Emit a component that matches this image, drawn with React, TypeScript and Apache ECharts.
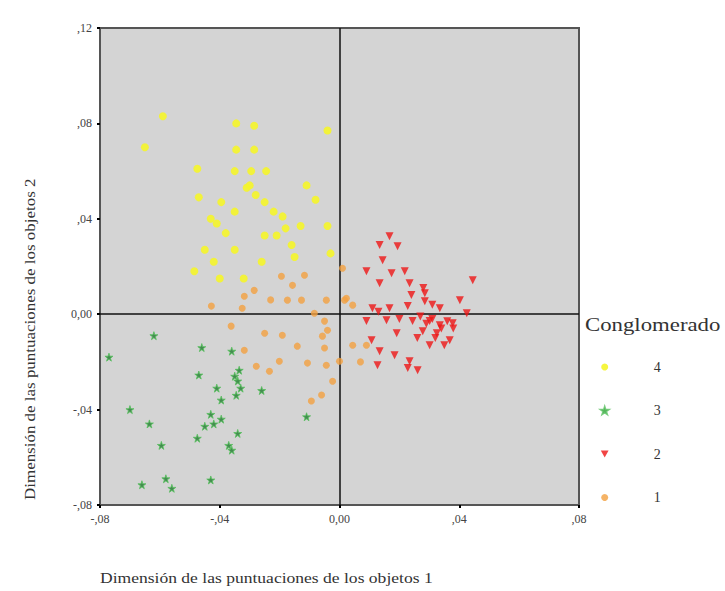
import React, { useEffect, useRef } from "react";
import * as echarts from "echarts";

const clusterNames = ["4", "3", "2", "1"];

const cluster4: number[][] = [
  [-0.059, 0.083], [-0.0345, 0.080], [-0.0285, 0.079], [-0.004, 0.077], [-0.065, 0.070],
  [-0.0345, 0.069], [-0.0285, 0.069], [-0.0475, 0.061], [-0.035, 0.060], [-0.0295, 0.060],
  [-0.0245, 0.060], [-0.031, 0.053], [-0.030, 0.054], [-0.011, 0.054], [-0.008, 0.048],
  [-0.047, 0.049], [-0.0395, 0.047], [-0.025, 0.047], [-0.035, 0.043], [-0.019, 0.041],
  [-0.013, 0.037], [-0.041, 0.038], [-0.038, 0.034], [-0.025, 0.033], [-0.021, 0.033],
  [-0.016, 0.029], [-0.004, 0.037], [-0.003, 0.0255], [-0.0485, 0.018], [-0.040, 0.015],
  [-0.032, 0.015], [-0.026, 0.022], [-0.042, 0.022], [-0.043, 0.040], [-0.028, 0.050],
  [-0.018, 0.036], [-0.022, 0.043], [-0.015, 0.024], [-0.035, 0.027], [-0.045, 0.027],
];

const cluster3: number[][] = [
  [-0.062, -0.009], [-0.077, -0.018], [-0.046, -0.014], [-0.036, -0.0155], [-0.0335, -0.0235],
  [-0.047, -0.0255], [-0.034, -0.028], [-0.033, -0.031], [-0.041, -0.031], [-0.0345, -0.034],
  [-0.026, -0.032], [-0.0395, -0.036], [-0.070, -0.040], [-0.043, -0.042], [-0.042, -0.046],
  [-0.0635, -0.046], [-0.0395, -0.044], [-0.0475, -0.052], [-0.034, -0.050], [-0.037, -0.055],
  [-0.036, -0.057], [-0.0595, -0.055], [-0.011, -0.043], [-0.066, -0.0715], [-0.058, -0.069],
  [-0.056, -0.073], [-0.043, -0.0695], [-0.035, -0.026], [-0.045, -0.047],
];

const cluster2: number[][] = [
  [0.0167, 0.0327], [0.0134, 0.029], [0.0194, 0.0285], [0.0144, 0.0226], [0.009, 0.018],
  [0.0174, 0.0172], [0.0218, 0.018], [0.0134, 0.013], [0.0234, 0.013], [0.0285, 0.0088],
  [0.0285, 0.0054], [0.0445, 0.0142], [0.0402, 0.0059], [0.011, 0.0025], [0.0167, 0.0025],
  [0.0228, 0.0034], [0.0335, 0.0025], [0.0425, 0.0004], [0.009, -0.0029], [0.0157, -0.0025],
  [0.0244, -0.0029], [0.0301, -0.0029], [0.0335, -0.0046], [0.0378, -0.0038], [0.0278, -0.0071],
  [0.0325, -0.008], [0.0191, -0.008], [0.0368, -0.0109], [0.0301, -0.013], [0.0107, -0.0109],
  [0.0134, -0.0155], [0.0184, -0.0172], [0.0234, -0.0197], [0.0261, -0.0235], [0.0228, -0.0226],
  [0.0127, -0.0214], [0.031, -0.002], [0.034, -0.006], [0.029, -0.004], [0.036, -0.003],
  [0.032, -0.010], [0.027, -0.001], [0.038, -0.006], [0.026, -0.010], [0.031, 0.004],
  [0.013, 0.001], [0.020, -0.002], [0.024, 0.008], [0.028, 0.011], [0.035, -0.013],
];

const cluster1: number[][] = [
  [-0.0194, 0.0159], [-0.0117, 0.0163], [-0.0157, 0.0121], [-0.0318, 0.0075], [-0.0325, 0.0025],
  [-0.0428, 0.0034], [-0.0174, 0.0059], [-0.0127, 0.0059], [-0.0044, 0.0059], [0.0023, 0.0067],
  [0.0044, 0.0038], [-0.0084, 0.0004], [-0.005, -0.0029], [-0.0362, -0.005], [-0.0191, -0.0088],
  [-0.0057, -0.0092], [-0.004, -0.0067], [-0.0141, -0.0134], [-0.005, -0.0142], [0.0044, -0.013],
  [-0.0318, -0.0151], [-0.0201, -0.0197], [-0.0107, -0.0205], [-0.0044, -0.0214], [0.0, -0.0197],
  [-0.0234, -0.0239], [-0.0278, -0.0218], [-0.0023, -0.0281], [-0.006, -0.0339], [-0.0094, -0.0364],
  [0.001, 0.0193], [0.0017, 0.0059], [-0.0285, 0.0100], [-0.023, 0.0060], [0.007, -0.020],
  [0.009, -0.013], [-0.025, -0.008],
];

const xTitle = "Dimensión de las puntuaciones de los objetos 1";
const yTitle = "Dimensión de las puntuaciones de los objetos 2";
const legendTitle = "Conglomerado";

const SERIF = "'Liberation Serif', 'Times New Roman', serif";
const STAR = "path://M50,0 L61,35 L98,35 L68,57 L79,91 L50,70 L21,91 L32,57 L2,35 L39,35 Z";
const DOWN_TRI = "path://M0,0 L10,0 L5,9 Z";

function fmt(v: number): string {
  if (Math.abs(v) < 1e-9) return "0,00";
  const s = String(Math.round(Math.abs(v) * 100)).padStart(2, "0");
  return (v < 0 ? "-," : ",") + s;
}

export default function App() {
  const ref = useRef<HTMLDivElement>(null);
  useEffect(() => {
    if (!ref.current) return;
    const chart = echarts.init(ref.current, null, { renderer: "svg" });
    const axisCommon = {
      axisLine: { show: true, onZero: false, lineStyle: { color: "#555", width: 2 } },
      axisTick: { show: true, length: 3, lineStyle: { color: "#000", width: 2 } },
      splitLine: { show: false },
      axisLabel: {
        formatter: fmt,
        color: "#444",
        fontFamily: SERIF,
        fontSize: 12,
        margin: 8,
      },
    };
    chart.setOption({
      animation: false,
      backgroundColor: "#ffffff",
      grid: {
        left: 100,
        right: 146,
        top: 28,
        bottom: 86,
        show: true,
        backgroundColor: "#d4d4d4",
        borderColor: "#555",
        borderWidth: 2,
      },
      xAxis: {
        type: "value",
        min: -0.08,
        max: 0.08,
        interval: 0.04,
        ...axisCommon,
      },
      yAxis: {
        type: "value",
        min: -0.08,
        max: 0.12,
        interval: 0.04,
        ...axisCommon,
      },
      legend: {
        data: clusterNames,
        orient: "vertical",
        left: 595,
        top: 355,
        padding: 5,
        itemWidth: 8,
        itemHeight: 7,
        itemGap: 29.5,
        textStyle: { fontFamily: SERIF, fontSize: 14, color: "#333", padding: [0, 0, 0, 40] },
        selectedMode: false,
      },
      graphic: [
        {
          type: "text",
          x: 585,
          y: 325,
          scaleX: 1.2,
          style: { text: legendTitle, font: `19px ${SERIF}`, fill: "#333", textVerticalAlign: "middle" },
        },
        {
          type: "text",
          x: 100,
          y: 578,
          scaleX: 1.17,
          style: { text: xTitle, font: `15px ${SERIF}`, fill: "#333", textVerticalAlign: "middle" },
        },
        {
          type: "text",
          x: 30,
          y: 500,
          rotation: Math.PI / 2,
          scaleX: 1.13,
          style: { text: yTitle, font: `15px ${SERIF}`, fill: "#333", textAlign: "left", textVerticalAlign: "middle" },
        },
      ],
      series: [
        {
          name: "4",
          type: "scatter",
          data: cluster4,
          symbol: "circle",
          symbolSize: 8,
          itemStyle: { color: "#f5f52a", opacity: 0.9 },
          z: 3,
        },
        {
          name: "3",
          type: "scatter",
          data: cluster3,
          symbol: STAR,
          symbolSize: 8,
          itemStyle: { color: "#1f7a2e", borderColor: "#59c05f", borderWidth: 1 },
          z: 3,
        },
        {
          name: "2",
          type: "scatter",
          data: cluster2,
          symbol: DOWN_TRI,
          symbolSize: 8,
          itemStyle: { color: "#ee1515" },
          z: 3,
        },
        {
          name: "1",
          type: "scatter",
          data: cluster1,
          symbol: "circle",
          symbolSize: 7,
          itemStyle: { color: "#f3a040" },
          z: 3,
          markLine: {
            silent: true,
            symbol: "none",
            label: { show: false },
            lineStyle: { color: "#111", width: 1.5, type: "solid" },
            data: [{ xAxis: 0 }, { yAxis: 0 }],
            z: 2,
          },
        },
      ],
    });
    return () => chart.dispose();
  }, []);
  return (
    <div
      ref={ref}
      style={{ position: "fixed", left: 0, top: 0, width: 725, height: 591 }}
    />
  );
}
